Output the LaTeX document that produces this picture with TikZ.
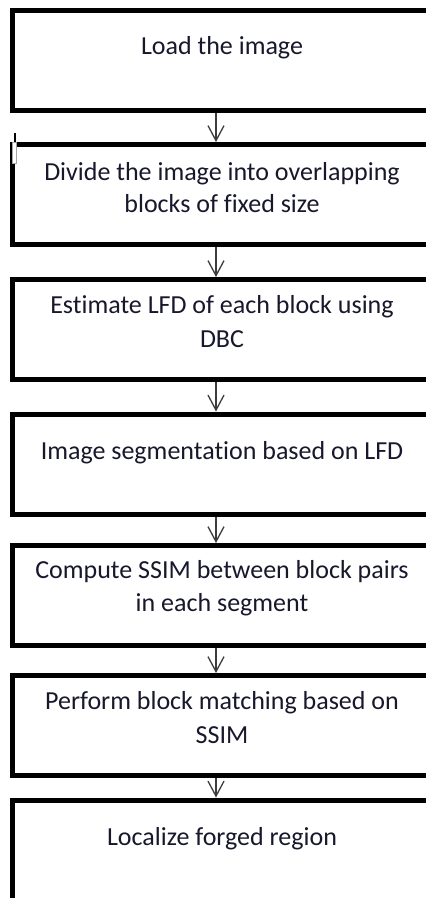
\documentclass[tikz,border=0pt]{standalone}
\usepackage{fontspec}
\setmainfont{Carlito}[Ligatures={NoCommon}]
\usetikzlibrary{arrows.meta}
\definecolor{txt}{RGB}{24,24,44}
\definecolor{arr}{RGB}{60,60,60}
\begin{document}
\begin{tikzpicture}[x=1pt,y=-1pt,
  stepbox/.style={draw=black,line width=5pt,rectangle,minimum width=419.5pt,minimum height=100pt,inner sep=0pt,fill=white},
  lbl/.style={anchor=base,inner sep=0pt,text=txt,font=\fontsize{26}{33}\selectfont},
  flow/.style={draw=arr,line width=1.3pt,-{Straight Barb[length=15pt,width=16pt]}}]
\useasboundingbox (0,0) rectangle (426,898);
\clip (0,0) rectangle (426,898);
\fill[white] (0,0) rectangle (426,898);
\coordinate (ax) at (216,0);
\node[stepbox] (b1) at (222.25,60.5) {};
\node[stepbox] (b2) at (222.25,194.5) {};
\node[stepbox] (b3) at (222.25,329.5) {};
\node[stepbox] (b4) at (222.25,464) {};
\node[stepbox] (b5) at (222.25,595.5) {};
\node[stepbox] (b6) at (222.25,725.5) {};
\node[stepbox,minimum height=130pt] (b7) at (222.25,865) {};
\node[lbl] (t1) at (222,54) {Load the image};
\node[lbl] (t2a) at (222,180) {Divide the image into overlapping};
\node[lbl] (t2b) at (222,212.5) {blocks of fixed size};
\node[lbl] (t3a) at (222,313) {Estimate LFD of each block using};
\node[lbl] (t3b) at (222,347) {DBC};
\node[lbl] (t4) at (222,459) {Image segmentation based on LFD};
\node[lbl] (t5a) at (222,578) {Compute SSIM between block pairs};
\node[lbl] (t5b) at (222,611) {in each segment};
\node[lbl] (t6a) at (222,709) {Perform block matching based on};
\node[lbl] (t6b) at (222,743) {SSIM};
\node[lbl] (t7) at (222,845) {Localize forged region};
\draw[flow] (b1.south -| ax) -- (b2.north -| ax);
\draw[flow] (b2.south -| ax) -- (b3.north -| ax);
\draw[flow] (b3.south -| ax) -- (b4.north -| ax);
\draw[flow] (b4.south -| ax) -- (b5.north -| ax);
\draw[flow] (b5.south -| ax) -- (b6.north -| ax);
\draw[flow] (b6.south -| ax) -- (b7.north -| ax);
\coordinate (m1) at (15,133);
\coordinate (m2) at (15,142);
\draw[black,line width=2pt] (m1) -- (m2);
\draw[fill=white,draw=gray!70,line width=0.6pt] (12.5,142) rectangle (16.5,163);
\end{tikzpicture}
\end{document}
